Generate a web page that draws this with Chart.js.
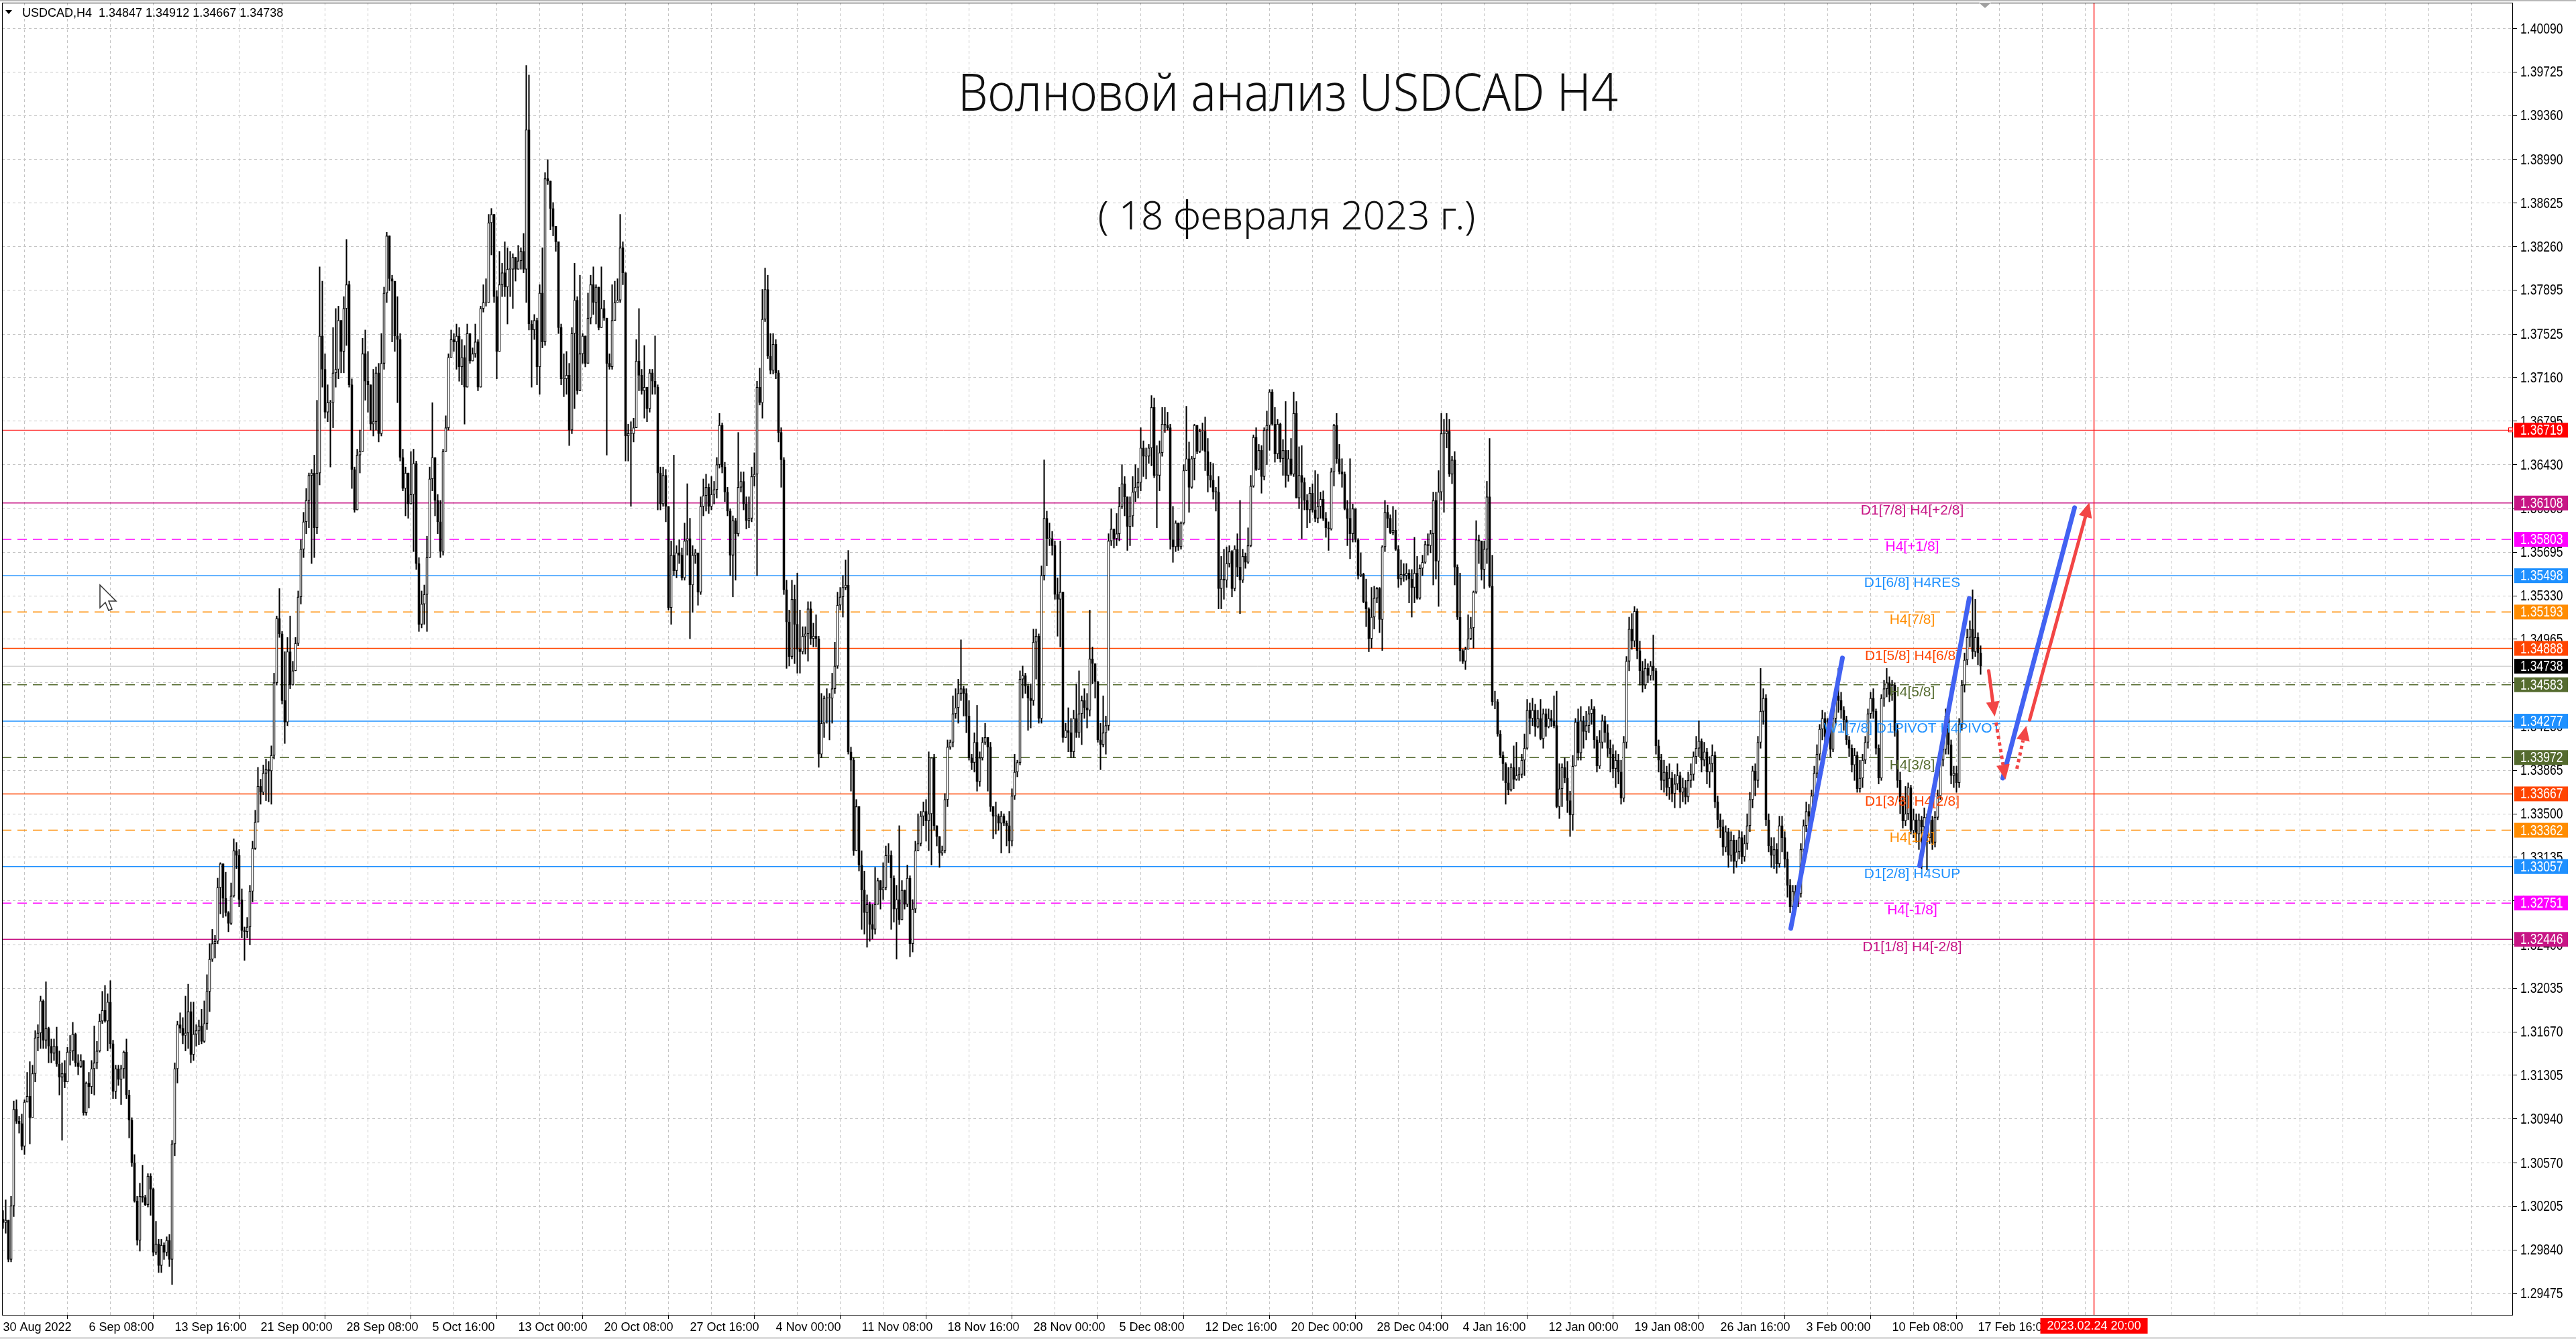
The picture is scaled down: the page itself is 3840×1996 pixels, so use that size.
<!DOCTYPE html>
<html>
<head>
<meta charset="utf-8">
<script src="https://cdn.jsdelivr.net/npm/chart.js@4.4.1/dist/chart.umd.min.js"></script>
<style>
html, body { margin: 0; padding: 0; background: #fff; overflow: hidden; }
canvas { display: block; }
</style>
</head>
<body>
<canvas id="chart" width="3840" height="1996"></canvas>
<script>
// USDCAD H4 bars, prices in pips above 1.3000
// each bar is [close, high, low]; open is the previous close
const firstOpen = 10;

// 30 Aug - 16 Sep
const part1 = [
[7,17,2],[9,26,-2],[-24,9,-26],[21,29,-26],[102,109,12],[92,110,90],[90,96,82],[71,98,68],[108,110,64],[113,133,108],
[95,142,73],[132,139,95],[162,168,125],[166,173,151],[193,197,153],[160,194,153],[170,209,153],[155,171,141],[149,161,141],[155,161,143],
[140,171,138],[129,151,114],[132,141,76],[125,143,120],[150,154,125],[151,164,139],[165,175,143],[141,166,138],[138,148,131],[143,148,137],
[99,143,97],[124,125,97],[121,133,103],[136,143,115],[141,172,114],[151,159,136],[176,182,150],[185,201,174],[176,206,175],[192,199,151],
[157,210,153],[117,160,111],[136,139,111],[127,139,122],[136,139,106],[150,151,128],[114,161,111],[93,118,78],[57,95,54],[25,64,24],
[-8,29,-12],[29,40,-17],[28,55,24],[22,30,21],[46,48,20],[35,48,13],[-18,36,-21],[-11,8,-20],[-29,-7,-35],[-12,-7,-35],
[-18,-10,-24],[-8,-5,-21],[-24,-3,-30],[73,76,-45],[136,141,63],[173,176,124],[170,183,166],[164,179,157],[166,197,151],[184,207,153],
[148,192,141],[165,192,143],[168,173,155],[172,177,156],[159,186,157],[174,193,158],[201,215,169],[228,241,184],[241,253,226],[243,248,229],
[288,296,241],[308,309,266],[279,308,263],[267,301,264],[258,268,251],[281,292,257],[319,329,280],[315,326,304],[278,320,272],[252,287,246],
[251,255,227],[255,263,246],[285,290,240],[321,327,276],[343,353,320]
];

// 16 Sep - 14 Oct
const part2 = [
[373,389,358],[368,379,358],[384,391,366],[387,396,361],[386,394,360],[399,407,358],[460,468,396],[514,516,458],[501,539,498],[445,503,442],
[427,486,409],[486,498,424],[458,516,455],[470,478,468],[493,498,470],[532,537,491],[572,580,526],[595,603,565],[613,623,585],[634,636,590],
[636,639,560],[590,651,565],[636,697,585],[751,809,626],[723,797,708],[687,736,682],[695,710,679],[695,697,641],[720,758,674],[723,774,708],
[764,776,715],[738,748,720],[774,784,720],[794,832,743],[710,797,708],[639,715,623],[605,641,603],[651,656,605],[654,672,636],[736,749,654],
[713,756,697],[710,738,687],[677,710,672],[679,723,667],[720,725,672],[669,728,662],[728,753,667],[787,792,723],[835,838,779],[799,835,789],
[797,802,746],[751,787,738],[748,784,695],[649,753,646],[623,656,621],[636,641,600],[610,636,598],[618,654,610],[644,656,570],[560,646,555],
[509,565,503],[526,537,506],[534,542,509],[565,583,503],[631,641,565],[649,695,621],[613,649,600],[595,618,585],[570,613,565],[654,656,567],
[674,684,656],[733,736,672],[748,756,733],[746,753,738],[751,761,723],[725,758,713],[733,748,710],[708,743,677],[753,761,708],[730,753,728],
[736,741,733],[746,761,733],[708,748,705],[774,776,708],[779,794,771],[779,799,776],[846,853,779],[853,858,819],[784,853,779],[738,789,715],
[794,822,738],[804,812,784],[792,830,784],[807,825,761],[807,822,784],[817,820,774],[807,817,797],[814,827,807],[822,825,807],[807,837,804],
[924,978,779],[761,970,756],[756,764,708],[764,769,748],[725,766,710],[787,794,702],[746,825,741],[883,888,743],[881,899,878],[858,873,840],
[843,863,835],[830,840,822],[758,830,753],[715,761,710],[715,736,700],[718,738,702],[672,728,659],[753,758,669],[781,812,690],[705,784,702],
[736,802,733],[751,753,728],[728,743,725],[766,787,743],[794,802,761],[779,809,769],[792,794,761],[758,784,756],[774,809,769],[766,781,764],
[728,766,651],[725,736,723],[764,794,723],[779,797,764],[781,799,779],[825,853,779],[804,830,794],[667,804,646],[669,677,646],[669,679,608],
[674,682,662],[730,748,687],[718,774,705],[705,723,702],[708,743,682],[690,708,679],[720,723,687],[713,723,702],[708,751,702],[636,710,605],
[610,641,605],[634,641,608],[608,639,595],[523,608,521]
];

// 14 Oct - 16 Nov
const part3 = [
[567,579,509],[554,651,550],[569,575,548],[567,580,560],[548,573,546],[579,594,546],[581,627,567],[542,598,497],[567,575,519],[569,572,560],
[536,565,525],[608,616,534],[617,631,600],[624,635,604],[608,627,602],[618,633,605],[622,629,610],[643,649,615],[676,686,640],[641,678,636],
[620,645,612],[604,624,600],[567,606,550],[596,600,532],[585,598,546],[624,670,583],[629,637,620],[610,637,605],[596,616,589],[598,616,590],
[633,641,595],[635,653,625],[708,713,550],[695,724,693],[765,790,682],[790,808,763],[734,802,732],[722,753,719],[744,753,719],[720,748,715],
[670,722,662],[647,674,624],[538,649,534],[511,546,472],[482,521,474],[530,546,480],[509,542,476],[488,552,468],[486,521,468],[499,507,484],
[501,507,484],[522,528,478],[497,528,492],[499,510,490],[497,517,490],[400,499,389],[426,451,397],[447,449,414],[447,455,426],[447,451,412],
[455,468,426],[474,494,451],[525,536,472],[532,540,521],[540,550,515],[542,563,538],[402,571,400],[395,406,369],[319,397,315],[356,362,319],
[307,354,302],[286,319,253],[267,302,249],[274,282,238],[257,276,243],[253,274,245],[274,305,249],[294,296,274],[286,294,270],[288,309,278],
[315,323,286],[315,325,309],[296,319,253],[270,298,259],[278,290,228],[261,340,257],[286,294,270],[274,284,270],[296,307,272],[241,298,230],
[270,278,234],[319,327,267],[325,350,319],[348,352,323],[352,360,340],[344,362,327],[350,402,319],[397,397,307],[340,400,336],[331,340,323],
[317,331,305],[319,323,315],[362,367,317],[406,412,356],[410,412,404],[434,449,406],[439,455,430],[451,463,426],[455,496,445],[451,457,432],
[432,455,418],[397,445,395],[393,400,387],[410,418,385],[377,441,369],[397,402,373],[410,414,395],[414,426,408],[406,410,369],[356,410,352],
[348,356,329],[348,360,333],[342,350,336],[348,352,317],[342,350,340],[340,344,323],[327,352,317],[365,371,323],[385,400,362],[393,395,381],
[463,470,391],[466,474,447],[457,468,451],[447,459,420],[445,459,422],[494,505,441],[499,505,463],[430,501,426],[550,558,426],[598,647,546],
[581,604,558],[581,594,575],[575,587,567],[534,579,530],[530,548,499],[536,579,490],[414,536,410],[420,426,414],[418,439,402],[402,430,397],
[430,437,397],[418,459,414],[434,470,414],[445,449,408],[439,455,430],[437,451,422],[480,521,432],[476,490,459],[461,476,447],[412,461,410],
[408,426,387],[418,449,406],[424,432,400],[579,585,420],[589,606,575],[581,587,573],[585,602,575],[608,624,579],[627,643,606],[616,633,600],
[591,608,571],[600,616,575],[620,633,591],[624,643,612],[628,640,615]
];

// 16 Nov - 6 Jan
const part4 = [
[657,674,621],[650,663,633],[650,657,631],[657,660,644],[691,701,642],[634,699,632],[634,659,590],[653,663,621],[677,691,650],[676,691,670],
[674,687,672],[580,677,572],[574,608,561],[594,596,570],[574,593,571],[594,595,572],[638,643,593],[648,692,638],[624,662,603],[648,650,623],
[676,677,630],[654,674,652],[671,673,653],[671,678,655],[654,683,638],[634,665,620],[630,645,624],[620,644,614],[620,624,604],[539,633,522],
[547,566,522],[546,572,530],[560,574,540],[570,575,557],[539,571,532],[572,575,537],[557,585,549],[546,613,518],[566,572,544],[561,569,556],
[575,590,560],[625,634,574],[666,668,624],[639,674,638],[655,660,639],[633,659,619],[672,674,630],[676,688,643],[704,706,655],[677,706,676],
[652,691,645],[677,681,648],[648,678,645],[655,664,634],[634,696,624],[648,655,629],[635,665,634],[686,704,633],[615,696,615],[634,658,606],
[628,659,581],[613,632,605],[605,618,590],[619,624,594],[605,627,603],[598,638,595],[608,635,594],[614,620,598],[598,621,596],[590,603,582],
[589,595,571],[637,640,588],[676,677,625],[648,686,644],[637,660,635],[635,648,624],[606,637,605],[598,613,575],[585,648,564],[606,610,578],
[580,606,578],[550,581,547],[551,569,549],[528,552,527],[522,547,507],[497,523,486],[515,540,489],[531,541,505],[539,540,527],[513,540,502],
[574,575,487],[603,613,570],[598,609,590],[586,601,585],[588,608,584],[572,605,571],[547,575,540],[551,563,542],[550,560,545],[552,560,546],
[547,555,527],[540,555,515],[552,582,527],[531,566,530],[556,559,530],[561,567,550],[576,579,560],[575,585,567],[585,588,569],[613,620,542],
[562,620,547],[620,638,524],[669,686,613],[669,681,603],[671,686,657],[635,681,633],[647,650,627],[557,654,542],[515,559,513],[487,552,478],
[478,488,476],[488,490,471],[497,517,488],[506,515,496],[536,537,489],[580,596,535],[579,584,560],[555,575,546],[572,579,539],[616,629,560],
[541,665,540],[444,567,441],[444,453,438],[417,446,415],[399,420,397],[392,402,378],[376,393,358],[370,389,366],[389,392,369],[379,407,371],
[382,410,378],[383,389,378],[395,400,380],[405,417,382],[437,446,404],[430,443,417],[437,447,424],[423,442,415],[430,437,422],[413,446,412],
[434,438,405],[423,438,415],[430,438,422],[428,437,423],[424,449,422],[356,453,355],[371,392,346],[389,392,356],[380,397,376],[361,394,351],
[349,369,331],[390,399,336]
];

// 6 Jan - 17 Feb
const part5 = [
[427,430,398],[401,438,395],[428,440,395],[419,432,405],[424,436,412],[434,440,418],[438,446,425],[412,440,405],[390,415,385],[410,420,388],
[428,433,405],[418,432,410],[405,425,398],[400,412,385],[388,408,380],[395,403,372],[385,400,375],[363,395,358],[410,415,360],[478,482,405],
[505,515,470],[495,518,488],[520,524,490],[487,522,480],[470,495,458],[458,478,452],[472,480,455],[466,476,460],[474,478,462],[470,500,462],
[407,472,400],[395,412,385],[378,400,370],[385,395,368],[372,390,365],[380,392,362],[367,385,360],[375,383,355],[382,392,370],[368,385,355],
[372,380,360],[364,378,358],[378,385,360],[383,392,372],[398,402,378],[405,415,392],[411,428,398],[395,413,385],[402,410,390],[385,405,375],
[392,398,372],[399,408,385],[360,402,355],[345,365,338],[339,350,330],[322,345,315],[335,340,318],[315,338,305],[328,335,310],[310,332,300],
[318,328,305],[330,336,312],[314,335,308],[325,332,310],[340,350,320],[362,368,335],[386,390,355],[378,392,365],[410,415,372],[436,472,405],
[447,455,425],[345,450,340],[323,350,318],[315,330,305],[320,330,304],[308,325,300],[340,348,305],[330,348,318],[312,335,305],[290,318,280],
[272,295,267],[285,290,270],[276,290,270],[283,292,272],[320,325,280],[340,345,318],[352,360,335],[348,358,338],[365,370,345],[384,390,360],
[400,408,380],[421,425,395],[430,437,412],[415,435,408],[422,430,410],[404,425,398],[430,435,402],[449,455,425],[445,472,435],[437,452,430],
[429,440,420],[412,432,408],[405,415,398],[391,408,385],[399,405,378],[371,402,368],[380,395,368],[395,400,372],[410,415,392],[434,438,405],
[447,452,430],[436,455,430],[405,438,400],[380,408,375],[447,450,378],[455,462,440],[460,472,448],[450,465,444],[458,462,445],[420,460,415],
[378,425,372],[360,385,350],[344,365,338],[350,373,340],[372,376,345],[336,374,333],[345,354,330],[333,350,326],[345,350,320],[339,348,304],
[347,355,330],[330,350,303],[345,352,325],[326,348,320],[347,352,322],[365,370,345],[395,404,362],[404,410,390],[432,438,400],[408,440,400],
[382,412,375],[384,390,372],[376,390,368],[425,430,372],[458,462,420],[479,485,452],[498,505,475],[505,512,490],[486,538,480],[498,530,482],
[485,502,475],[474,491,467]
];

const yTicks = [1.40090,1.39725,1.39360,1.38990,1.38625,1.38260,1.37895,1.37525,1.37160,1.36795,1.36430,1.36065,1.35695,1.35330,
  1.34965,1.34600,1.34230,1.33865,1.33500,1.33135,1.32770,1.32400,1.32035,1.31670,1.31305,1.30940,1.30570,1.30205,1.29840,1.29475];

const timeLabels = ['30 Aug 2022','6 Sep 08:00','13 Sep 16:00','21 Sep 00:00','28 Sep 08:00','5 Oct 16:00','13 Oct 00:00',
  '20 Oct 08:00','27 Oct 16:00','4 Nov 00:00','11 Nov 08:00','18 Nov 16:00','28 Nov 00:00','5 Dec 08:00','12 Dec 16:00',
  '20 Dec 00:00','28 Dec 04:00','4 Jan 16:00','12 Jan 00:00','19 Jan 08:00','26 Jan 16:00','3 Feb 00:00','10 Feb 08:00','17 Feb 16:00'];

// Murrey math levels
const levelPrices = [1.36108,1.35803,1.35498,1.35193,1.34888,1.34583,1.34277,1.33972,1.33667,1.33362,1.33057,1.32751,1.32446];
const levelTexts = ['D1[7/8] H4[+2/8]','H4[+1/8]','D1[6/8] H4RES','H4[7/8]','D1[5/8] H4[6/8]','H4[5/8]',
  'W1[7/8] D1PIVOT H4PIVOT','H4[3/8]','D1[3/8] H4[2/8]','H4[1/8]','D1[2/8] H4SUP','H4[-1/8]','D1[1/8] H4[-2/8]'];
const redLevel = 1.36719;
const header = ['USDCAD,H4', 1.34847, 1.34912, 1.34667, 1.34738];
const bidPrice = header[4];

// hand drawn wave lines and arrows, [bar1, price1, bar2, price2]
const blueLines = [[666.25,1.32538,685.5,1.34807],[714.25,1.33064,732.75,1.35308],[745.25,1.33799,772,1.36068]];
const solidArrows = [[740,1.34700,742.25,1.34317],[755.25,1.34288,777.5,1.36112]];
const dottedArrows = [[742.75,1.34266,746.25,1.33788],[750.5,1.33878,754,1.34238]];
const forecastBar = 779.25;
const forecastLabel = '2023.02.24 20:00';

const title = 'Волновой анализ USDCAD H4';
const subtitle = '( 18 февраля 2023 г.)';

// ---- styles ----
const VIOLET = '#c71585', MAGENTA = '#ff00ff', BLUE = '#1e90ff', ORANGE = '#ff8c00', ORED = '#ff4500', OLIVE = '#556b2f';
const levelColors = [VIOLET, MAGENTA, BLUE, ORANGE, ORED, OLIVE, BLUE, OLIVE, ORED, ORANGE, BLUE, MAGENTA, VIOLET];
const levelDashed = [false, true, false, true, false, true, false, true, false, true, false, true, false];
const AXIS_FONT = '18px "Liberation Sans", Arial, sans-serif';
const PRICE_FONT = '22px "Liberation Sans", Arial, sans-serif';
const LEVEL_FONT = '21px "Liberation Sans", Arial, sans-serif';

const pip = v => 1.3 + v / 10000;
const bars = part1.concat(part2, part3, part4, part5);
const wickData = [], bodyData = [], bodyFill = [];
let prevClose = firstOpen;
bars.forEach((b, i) => {
    const o = prevClose, c = b[0];
    const hi = Math.max(b[1], o, c), lo = Math.min(b[2], o, c);
    wickData.push({ x: i, y: [pip(lo), pip(hi)] });
    bodyData.push({ x: i, y: [pip(Math.min(o, c)), pip(Math.max(o, c))] });
    bodyFill.push(c >= o ? '#ffffff' : '#000000');
    prevClose = c;
});

function arrow(c, x1, y1, x2, y2, dotted) {
    const a = Math.atan2(y2 - y1, x2 - x1);
    const hl = 22, hw = 10;
    const bx = x2 - hl * Math.cos(a), by = y2 - hl * Math.sin(a);
    c.lineWidth = 5;
    c.setLineDash(dotted ? [5, 5] : []);
    c.lineCap = dotted ? 'butt' : 'round';
    c.beginPath(); c.moveTo(x1, y1); c.lineTo(bx, by); c.stroke();
    c.setLineDash([]);
    c.beginPath();
    c.moveTo(x2, y2);
    c.lineTo(bx + hw * Math.sin(a), by - hw * Math.cos(a));
    c.lineTo(bx - hw * Math.sin(a), by + hw * Math.cos(a));
    c.closePath(); c.fill();
}

function fitText(c, text, cx, cy, width, font) {
    c.save();
    c.font = font;
    c.textAlign = 'center';
    c.textBaseline = 'middle';
    const w = c.measureText(text).width;
    c.translate(cx, cy);
    c.scale(width / w, 1);
    c.fillText(text, 0, 0);
    c.restore();
}

// narrow price text like the terminal's axis font
function priceText(c, text, x, y) {
    c.save();
    c.translate(x, y);
    c.scale(0.8, 1);
    c.fillText(text, 0, 0);
    c.restore();
}

const mt4 = {
    id: 'mt4',
    beforeDraw(chart) {
        const c = chart.ctx;
        c.save();
        c.fillStyle = '#ffffff';
        c.fillRect(0, 0, chart.width, chart.height);
        c.restore();
    },
    beforeDatasetsDraw(chart) {
        const c = chart.ctx, Y = v => chart.scales.y.getPixelForValue(v);
        const { left, right, top, bottom } = chart.chartArea;
        c.save();
        c.beginPath(); c.rect(left, top, right - left, bottom - top); c.clip();
        levelPrices.forEach((p, i) => {
            c.strokeStyle = levelColors[i];
            c.lineWidth = 1.5;
            c.setLineDash(levelDashed[i] ? [14, 9] : []);
            c.beginPath(); c.moveTo(left, Y(p)); c.lineTo(right, Y(p)); c.stroke();
        });
        c.setLineDash([]);
        c.lineWidth = 1;
        c.strokeStyle = '#ff0000';
        c.beginPath(); c.moveTo(left, Y(redLevel)); c.lineTo(right, Y(redLevel)); c.stroke();
        c.strokeStyle = '#c0c0c0';
        c.beginPath(); c.moveTo(left, Y(bidPrice)); c.lineTo(right, Y(bidPrice)); c.stroke();
        c.restore();
    },
    afterDatasetsDraw(chart) {
        const c = chart.ctx;
        const X = v => chart.scales.x.getPixelForValue(v), Y = v => chart.scales.y.getPixelForValue(v);
        const { top, bottom } = chart.chartArea;
        c.save();
        // forecast time line
        c.strokeStyle = '#ff2020'; c.lineWidth = 1.5;
        c.beginPath(); c.moveTo(X(forecastBar), top); c.lineTo(X(forecastBar), bottom); c.stroke();
        // level captions
        c.font = LEVEL_FONT; c.textAlign = 'center'; c.textBaseline = 'top';
        levelPrices.forEach((p, i) => {
            c.fillStyle = levelColors[i];
            c.fillText(levelTexts[i], X(711.5), Y(p) + 1);
        });
        // wave lines
        c.strokeStyle = '#4262f2'; c.lineWidth = 7; c.lineCap = 'round';
        blueLines.forEach(l => {
            c.beginPath(); c.moveTo(X(l[0]), Y(l[1])); c.lineTo(X(l[2]), Y(l[3])); c.stroke();
        });
        c.strokeStyle = '#f24545'; c.fillStyle = '#f24545';
        solidArrows.forEach(l => arrow(c, X(l[0]), Y(l[1]), X(l[2]), Y(l[3]), false));
        dottedArrows.forEach(l => arrow(c, X(l[0]), Y(l[1]), X(l[2]), Y(l[3]), true));
        // titles
        c.fillStyle = '#111111';
        fitText(c, title, 1920, 143, 984, '300 78px "Noto Sans", "DejaVu Sans", sans-serif');
        fitText(c, subtitle, 1918, 325, 563, '300 58px "Noto Sans", "DejaVu Sans", sans-serif');
        c.restore();
    },
    afterDraw(chart) {
        const c = chart.ctx;
        const X = v => chart.scales.x.getPixelForValue(v), Y = v => chart.scales.y.getPixelForValue(v);
        const { left, right, top, bottom } = chart.chartArea;
        c.save();
        // window edges
        c.fillStyle = '#b8b8b8'; c.fillRect(0, 0, chart.width, 2);
        c.fillStyle = '#dcdcdc'; c.fillRect(0, chart.height - 3, chart.width, 3);
        // frame
        c.strokeStyle = '#000'; c.lineWidth = 1;
        c.strokeRect(left + 0.5, top + 0.5, right - left - 1, bottom - top);
        // shift marker
        c.fillStyle = '#a0a0a0';
        c.beginPath(); c.moveTo(2950, 4); c.lineTo(2968, 4); c.lineTo(2959, 12); c.closePath(); c.fill();
        // red level end marker
        c.strokeStyle = '#ff0000';
        c.strokeRect(right - 6.5, Y(redLevel) - 3.5, 6, 6);
        // price scale labels
        c.font = PRICE_FONT; c.textAlign = 'left'; c.textBaseline = 'middle';
        c.fillStyle = '#000000';
        yTicks.forEach(v => priceText(c, v.toFixed(5), right + 11, Y(v) + 1));
        // price boxes
        const boxes = [[redLevel, '#ff0000']].concat(levelPrices.map((p, i) => [p, levelColors[i]]));
        boxes.splice(6, 0, [bidPrice, '#000000']);
        boxes.forEach(b => {
            const y = Y(b[0]);
            c.fillStyle = b[1];
            c.fillRect(right + 2, y - 11, 80, 22);
            c.fillStyle = '#ffffff';
            priceText(c, b[0].toFixed(5), right + 11, y + 1);
        });
        // forecast time box
        c.font = AXIS_FONT;
        const fx = X(forecastBar);
        c.fillStyle = '#ff0000';
        c.fillRect(fx - 80, 1965, 160, 23);
        c.fillStyle = '#ffffff'; c.textAlign = 'center';
        c.fillText(forecastLabel, fx, 1977);
        // header
        c.fillStyle = '#000';
        c.beginPath(); c.moveTo(8, 15); c.lineTo(18, 15); c.lineTo(13, 21); c.closePath(); c.fill();
        c.textAlign = 'left';
        c.fillText(header[0] + '  ' + header.slice(1).map(v => v.toFixed(5)).join(' '), 33, 20);
        // mouse cursor
        c.translate(149, 872);
        c.beginPath();
        c.moveTo(0, 0); c.lineTo(0, 34); c.lineTo(8, 26); c.lineTo(13, 38); c.lineTo(18, 36);
        c.lineTo(13, 24); c.lineTo(24, 24); c.closePath();
        c.fillStyle = '#fff'; c.fill();
        c.strokeStyle = '#333'; c.lineWidth = 1.5; c.stroke();
        c.restore();
    }
};

const chart = new Chart(document.getElementById('chart'), {
    type: 'bar',
    data: {
        datasets: [
            {
                label: 'wick',
                data: wickData,
                backgroundColor: '#000000',
                borderWidth: 0,
                barThickness: 1.4,
                minBarLength: 1,
                grouped: false,
                order: 2
            },
            {
                label: 'body',
                data: bodyData,
                backgroundColor: bodyFill,
                borderColor: '#000000',
                borderWidth: 1.2,
                borderSkipped: false,
                barThickness: 3.4,
                minBarLength: 1,
                grouped: false,
                order: 1
            }
        ]
    },
    options: {
        responsive: false,
        animation: false,
        devicePixelRatio: 1,
        events: [],
        layout: { padding: { top: 4, left: 3, right: 0, bottom: 0 } },
        plugins: { legend: { display: false }, tooltip: { enabled: false } },
        scales: {
            x: {
                type: 'linear',
                offset: false,
                min: -0.375,
                max: 935.375,
                afterBuildTicks: scale => {
                    const t = [];
                    for (let v = 0; v <= 928; v += 16) t.push({ value: v });
                    scale.ticks = t;
                },
                afterFit: scale => { scale.height = 36; },
                ticks: {
                    autoSkip: false,
                    maxRotation: 0,
                    align: 'start',
                    padding: 2,
                    color: '#000',
                    font: { family: '"Liberation Sans", Arial, sans-serif', size: 18 },
                    callback: v => (v % 32 === 0 && timeLabels[v / 32]) ? timeLabels[v / 32] : ''
                },
                grid: {
                    color: '#c4c4c4',
                    lineWidth: 1,
                    tickLength: 6,
                    tickWidth: 1,
                    tickColor: ctx => (ctx.tick && ctx.tick.value % 32 === 0 && ctx.tick.value <= 736) ? '#000' : 'rgba(0,0,0,0)'
                },
                border: { display: false, dash: [4, 4] }
            },
            y: {
                position: 'right',
                min: 1.292951,
                max: 1.403067,
                afterBuildTicks: scale => { scale.ticks = yTicks.map(v => ({ value: v })); },
                afterFit: scale => { scale.width = 94; },
                ticks: { display: false },
                grid: {
                    color: '#c4c4c4',
                    lineWidth: 1,
                    tickLength: 6,
                    tickColor: '#000'
                },
                border: { display: false, dash: [4, 4] }
            }
        }
    },
    plugins: [mt4]
});
</script>
</body>
</html>
